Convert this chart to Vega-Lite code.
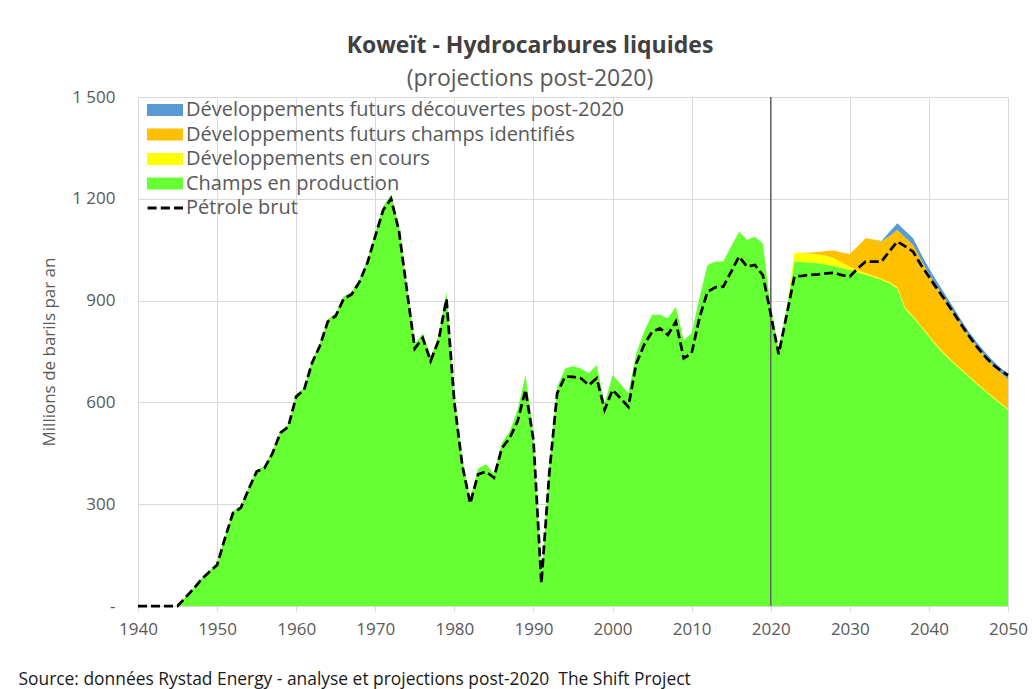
{
  "$schema": "https://vega.github.io/schema/vega-lite/v6.json",
  "width": 870,
  "height": 509,
  "autosize": {"type": "none"},
  "padding": {"left": 138, "top": 97, "right": 24, "bottom": 83},
  "background": "white",
  "title": {
    "text": "Koweït - Hydrocarbures liquides",
    "subtitle": "(projections post-2020)",
    "anchor": "middle",
    "dx": -43,
    "offset": -3,
    "font": "Open Sans",
    "fontSize": 23,
    "fontWeight": "bold",
    "color": "#404040",
    "subtitleFont": "Open Sans",
    "subtitleFontSize": 23,
    "subtitleColor": "#595959",
    "subtitlePadding": 10
  },
  "datasets": {
    "kw": [
      {"year": 1940, "champs": 0, "brut": 0},
      {"year": 1941, "champs": 0, "brut": 0},
      {"year": 1942, "champs": 0, "brut": 0},
      {"year": 1943, "champs": 0, "brut": 0},
      {"year": 1944, "champs": 0, "brut": 0},
      {"year": 1945, "champs": 0, "brut": 0},
      {"year": 1946, "champs": 27, "brut": 25},
      {"year": 1947, "champs": 52, "brut": 50},
      {"year": 1948, "champs": 80, "brut": 78},
      {"year": 1949, "champs": 103, "brut": 100},
      {"year": 1950, "champs": 125, "brut": 121},
      {"year": 1951, "champs": 205, "brut": 200},
      {"year": 1952, "champs": 279, "brut": 274},
      {"year": 1953, "champs": 295, "brut": 289},
      {"year": 1954, "champs": 350, "brut": 345},
      {"year": 1955, "champs": 401, "brut": 396},
      {"year": 1956, "champs": 412, "brut": 407},
      {"year": 1957, "champs": 456, "brut": 450},
      {"year": 1958, "champs": 516, "brut": 510},
      {"year": 1959, "champs": 534, "brut": 528},
      {"year": 1960, "champs": 623, "brut": 617},
      {"year": 1961, "champs": 643, "brut": 637},
      {"year": 1962, "champs": 722, "brut": 716},
      {"year": 1963, "champs": 774, "brut": 767},
      {"year": 1964, "champs": 845, "brut": 838},
      {"year": 1965, "champs": 862, "brut": 855},
      {"year": 1966, "champs": 912, "brut": 905},
      {"year": 1967, "champs": 925, "brut": 918},
      {"year": 1968, "champs": 963, "brut": 955},
      {"year": 1969, "champs": 1020, "brut": 1011},
      {"year": 1970, "champs": 1100, "brut": 1090},
      {"year": 1971, "champs": 1178, "brut": 1167},
      {"year": 1972, "champs": 1213, "brut": 1200},
      {"year": 1973, "champs": 1118, "brut": 1105},
      {"year": 1974, "champs": 943, "brut": 930},
      {"year": 1975, "champs": 772, "brut": 759},
      {"year": 1976, "champs": 803, "brut": 790},
      {"year": 1977, "champs": 735, "brut": 722},
      {"year": 1978, "champs": 795, "brut": 782},
      {"year": 1979, "champs": 925, "brut": 905},
      {"year": 1980, "champs": 615, "brut": 600},
      {"year": 1981, "champs": 430, "brut": 415},
      {"year": 1982, "champs": 315, "brut": 302},
      {"year": 1983, "champs": 405, "brut": 388},
      {"year": 1984, "champs": 418, "brut": 396},
      {"year": 1985, "champs": 390, "brut": 378},
      {"year": 1986, "champs": 480, "brut": 465},
      {"year": 1987, "champs": 515, "brut": 495},
      {"year": 1988, "champs": 580, "brut": 545},
      {"year": 1989, "champs": 681, "brut": 637},
      {"year": 1990, "champs": 505, "brut": 489},
      {"year": 1991, "champs": 80, "brut": 67},
      {"year": 1992, "champs": 410, "brut": 390},
      {"year": 1993, "champs": 646, "brut": 627},
      {"year": 1994, "champs": 700, "brut": 676},
      {"year": 1995, "champs": 707, "brut": 675},
      {"year": 1996, "champs": 700, "brut": 671},
      {"year": 1997, "champs": 686, "brut": 651},
      {"year": 1998, "champs": 710, "brut": 671},
      {"year": 1999, "champs": 597, "brut": 578},
      {"year": 2000, "champs": 681, "brut": 637},
      {"year": 2001, "champs": 655, "brut": 612},
      {"year": 2002, "champs": 627, "brut": 587},
      {"year": 2003, "champs": 745, "brut": 715},
      {"year": 2004, "champs": 810, "brut": 770},
      {"year": 2005, "champs": 858, "brut": 808},
      {"year": 2006, "champs": 858, "brut": 818},
      {"year": 2007, "champs": 848, "brut": 799},
      {"year": 2008, "champs": 882, "brut": 838},
      {"year": 2009, "champs": 784, "brut": 730},
      {"year": 2010, "champs": 804, "brut": 745},
      {"year": 2011, "champs": 910, "brut": 850},
      {"year": 2012, "champs": 1005, "brut": 926},
      {"year": 2013, "champs": 1015, "brut": 939},
      {"year": 2014, "champs": 1015, "brut": 941},
      {"year": 2015, "champs": 1060, "brut": 985},
      {"year": 2016, "champs": 1103, "brut": 1030},
      {"year": 2017, "champs": 1079, "brut": 1000},
      {"year": 2018, "champs": 1088, "brut": 1005},
      {"year": 2019, "champs": 1069, "brut": 975},
      {"year": 2020, "champs": 880, "brut": 860},
      {"year": 2021, "champs": 755, "encours": 0, "identifies": 0, "postdecouv": 0, "brut": 742},
      {"year": 2022, "champs": 875, "encours": 6, "identifies": 0, "postdecouv": 0, "brut": 856},
      {"year": 2023, "champs": 1015, "encours": 26, "identifies": 0, "postdecouv": 0, "brut": 971},
      {"year": 2024, "champs": 1014, "encours": 26, "identifies": 1, "postdecouv": 0, "brut": 973},
      {"year": 2025, "champs": 1012, "encours": 27, "identifies": 3, "postdecouv": 0, "brut": 976},
      {"year": 2026, "champs": 1010, "encours": 26, "identifies": 7, "postdecouv": 0, "brut": 977},
      {"year": 2027, "champs": 1006, "encours": 26, "identifies": 14, "postdecouv": 0, "brut": 980},
      {"year": 2028, "champs": 1002, "encours": 23, "identifies": 23, "postdecouv": 0, "brut": 982},
      {"year": 2029, "champs": 996, "encours": 16, "identifies": 30, "postdecouv": 0, "brut": 975},
      {"year": 2030, "champs": 990, "encours": 10, "identifies": 37, "postdecouv": 0, "brut": 971},
      {"year": 2031, "champs": 983, "encours": 7, "identifies": 70, "postdecouv": 0, "brut": 995},
      {"year": 2032, "champs": 976, "encours": 5, "identifies": 103, "postdecouv": 0, "brut": 1015},
      {"year": 2033, "champs": 969, "encours": 4, "identifies": 107, "postdecouv": 0, "brut": 1015},
      {"year": 2034, "champs": 961, "encours": 4, "identifies": 109, "postdecouv": 2, "brut": 1015},
      {"year": 2035, "champs": 951, "encours": 4, "identifies": 135, "postdecouv": 12, "brut": 1045},
      {"year": 2036, "champs": 936, "encours": 4, "identifies": 168, "postdecouv": 20, "brut": 1074},
      {"year": 2037, "champs": 875, "encours": 4, "identifies": 207, "postdecouv": 20, "brut": 1060},
      {"year": 2038, "champs": 850, "encours": 4, "identifies": 210, "postdecouv": 20, "brut": 1044},
      {"year": 2039, "champs": 822, "encours": 4, "identifies": 194, "postdecouv": 18, "brut": 1005},
      {"year": 2040, "champs": 794, "encours": 4, "identifies": 180, "postdecouv": 17, "brut": 970},
      {"year": 2041, "champs": 765, "encours": 4, "identifies": 171, "postdecouv": 17, "brut": 936},
      {"year": 2042, "champs": 740, "encours": 4, "identifies": 160, "postdecouv": 16, "brut": 903},
      {"year": 2043, "champs": 718, "encours": 3, "identifies": 147, "postdecouv": 15, "brut": 868},
      {"year": 2044, "champs": 697, "encours": 3, "identifies": 132, "postdecouv": 14, "brut": 832},
      {"year": 2045, "champs": 676, "encours": 3, "identifies": 118, "postdecouv": 13, "brut": 798},
      {"year": 2046, "champs": 655, "encours": 3, "identifies": 108, "postdecouv": 13, "brut": 766},
      {"year": 2047, "champs": 635, "encours": 3, "identifies": 100, "postdecouv": 13, "brut": 738},
      {"year": 2048, "champs": 615, "encours": 3, "identifies": 94, "postdecouv": 13, "brut": 713},
      {"year": 2049, "champs": 597, "encours": 3, "identifies": 89, "postdecouv": 14, "brut": 695},
      {"year": 2050, "champs": 578, "encours": 3, "identifies": 87, "postdecouv": 17, "brut": 680}
    ]
  },
  "encoding": {
    "x": {
      "field": "year",
      "type": "quantitative",
      "scale": {"domain": [1940, 2050], "nice": false, "zero": false},
      "axis": {
        "values": [1940, 1950, 1960, 1970, 1980, 1990, 2000, 2010, 2020, 2030, 2040, 2050],
        "format": "d",
        "grid": true,
        "gridColor": "#d9d9d9",
        "domain": true,
        "domainColor": "#d9d9d9",
        "ticks": true,
        "tickColor": "#d9d9d9",
        "tickSize": 5,
        "labelPadding": 10,
        "labelFlush": false,
        "labelOverlap": false,
        "labelFont": "Open Sans",
        "labelFontSize": 17,
        "labelColor": "#595959",
        "title": "Source: données Rystad Energy - analyse et projections post-2020\u00a0 The Shift Project",
        "titleX": -120,
        "titleY": 78,
        "titleAlign": "left",
        "titleAnchor": "start",
        "titleBaseline": "alphabetic",
        "titleFont": "Open Sans",
        "titleFontSize": 17.4,
        "titleFontWeight": "normal",
        "titleColor": "#1a1a1a"
      }
    }
  },
  "layer": [
    {
      "data": {"name": "kw"},
      "transform": [
        {"fold": ["champs", "encours", "identifies", "postdecouv"], "as": ["serie", "value"]},
        {"filter": "isValid(datum.value)"}
      ],
      "mark": {"type": "area", "interpolate": "linear"},
      "encoding": {
        "y": {
          "field": "value",
          "type": "quantitative",
          "stack": "zero",
          "scale": {"domain": [0, 1500], "nice": false},
          "axis": {
            "values": [0, 300, 600, 900, 1200, 1500],
            "grid": true,
            "gridColor": "#d9d9d9",
            "domain": false,
            "ticks": false,
            "labelPadding": 23,
            "labelFont": "Open Sans",
            "labelFontSize": 17,
            "labelColor": "#595959",
            "labelExpr": "datum.value == 0 ? '-' : replace(format(datum.value, ','), ',', ' ')",
            "title": "Millions de barils par an",
            "titleFont": "Open Sans",
            "titleFontSize": 17,
            "titleFontWeight": "normal",
            "titleColor": "#595959",
            "titlePadding": 13
          }
        },
        "order": {"field": "serie", "sort": "ascending"},
        "color": {
          "field": "serie",
          "type": "nominal",
          "scale": {
            "domain": ["postdecouv", "identifies", "encours", "champs", "brut"],
            "range": ["#5B9BD5", "#FFC000", "#FFFF00", "#66FF33", "#000000"]
          },
          "legend": {
            "orient": "none",
            "legendX": 17,
            "legendY": 3,
            "title": null,
            "padding": 0,
            "direction": "vertical",
            "symbolSize": 144,
            "labelOffset": 11,
            "rowPadding": 4.5,
            "labelFont": "Open Sans",
            "labelFontSize": 20,
            "labelColor": "#595959",
            "labelLimit": 600,
            "labelExpr": "datum.value == 'postdecouv' ? 'Développements futurs découvertes post-2020' : datum.value == 'identifies' ? 'Développements futurs champs identifiés' : datum.value == 'encours' ? 'Développements en cours' : datum.value == 'champs' ? 'Champs en production' : 'Pétrole brut'",
            "encode": {
              "symbols": {
                "update": {
                  "shape": {"signal": "datum.value == 'brut' ? 'M-2.9,-0.25H-1.4V0.25H-2.9ZM-0.7,-0.25H0.8V0.25H-0.7ZM1.5,-0.25H3V0.25H1.5Z' : 'M-3,-1H3V1H-3Z'"},
                  "fill": {"scale": "color", "field": "value"},
                  "stroke": {"value": "transparent"},
                  "strokeWidth": {"value": 0},
                  "opacity": {"value": 1},
                  "fillOpacity": {"value": 1}
                }
              }
            }
          }
        }
      }
    },
    {
      "data": {"values": [{"year": 2020}]},
      "mark": {"type": "rule", "color": "#666666", "strokeWidth": 1.5},
      "encoding": {
        "x": {"field": "year", "type": "quantitative"}
      }
    },
    {
      "data": {"name": "kw"},
      "transform": [
        {"fold": ["brut"], "as": ["serie", "value"]}
      ],
      "mark": {"type": "line", "strokeDash": [9, 4], "strokeWidth": 2.75, "interpolate": "linear"},
      "encoding": {
        "y": {"field": "value", "type": "quantitative"},
        "color": {"field": "serie", "type": "nominal"}
      }
    }
  ],
  "config": {
    "font": "Open Sans",
    "view": {"stroke": null}
  }
}
